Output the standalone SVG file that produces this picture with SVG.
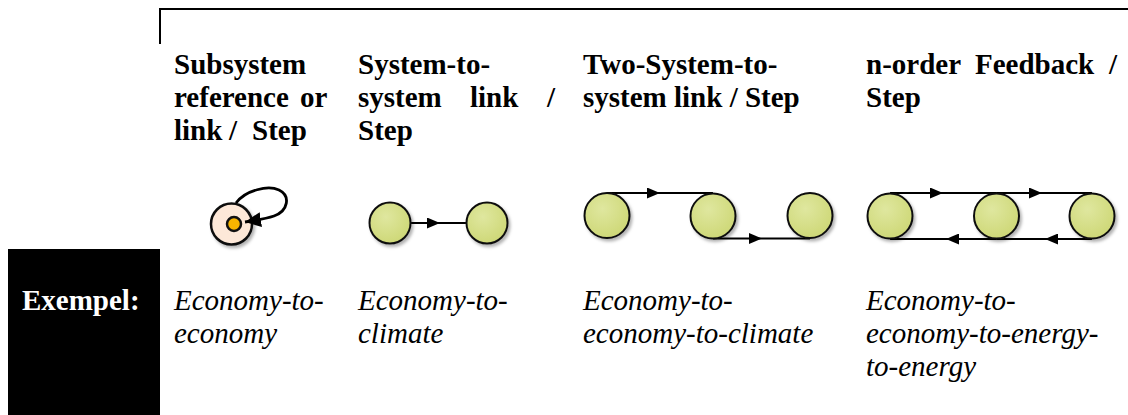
<svg xmlns="http://www.w3.org/2000/svg" width="1128" height="415" viewBox="0 0 1128 415">
<style>
.hd{font-family:"Liberation Serif","Times New Roman",serif;font-weight:bold;font-size:29px;fill:#000}
.ex{font-family:"Liberation Serif","Times New Roman",serif;font-style:italic;font-size:29px;fill:#000}
.lab{font-family:"Liberation Serif","Times New Roman",serif;font-weight:bold;font-size:29px;fill:#fff}
.node{fill:url(#g);stroke:#111;stroke-width:2;filter:url(#sh)}
.conn{fill:none;stroke:#000;stroke-width:2}
.frame{fill:none;stroke:#000;stroke-width:2}
</style>
<defs>
<radialGradient id="g" cx="40%" cy="35%" r="70%">
<stop offset="0" stop-color="#dfe79f"/>
<stop offset="1" stop-color="#cdd775"/>
</radialGradient>
<filter id="sh" x="-30%" y="-30%" width="170%" height="170%">
<feDropShadow dx="2" dy="2.5" stdDeviation="1.5" flood-color="#000" flood-opacity="0.3"/>
</filter>
<marker id="ar" markerUnits="userSpaceOnUse" markerWidth="13" markerHeight="11" refX="13" refY="5.5" orient="auto" viewBox="0 0 13 11">
<path d="M0,0 L13,5.5 L0,11 z" fill="#000"/>
</marker>
<marker id="arBig" markerUnits="userSpaceOnUse" markerWidth="16" markerHeight="15" refX="16" refY="7.5" orient="auto" viewBox="0 0 16 15">
<path d="M0,0 L16,7.5 L0,15 z" fill="#000"/>
</marker>
</defs>

<g id="frame">
<path class="frame" d="M160,44 L160,9 L1128,9"/>
</g>

<g id="headers">
<text class="hd" x="174" y="74">Subsystem</text>
<text class="hd" x="174" y="107">reference</text>
<text class="hd" x="300" y="107">or</text>
<text class="hd" x="174" y="140">link</text>
<text class="hd" x="229" y="140">/</text>
<text class="hd" x="252" y="140">Step</text>

<text class="hd" x="358" y="74">System-to-</text>
<text class="hd" x="358" y="107">system</text>
<text class="hd" x="470" y="107">link</text>
<text class="hd" x="547" y="107">/</text>
<text class="hd" x="358" y="140">Step</text>

<text class="hd" x="583" y="74">Two-System-to-</text>
<text class="hd" x="583" y="107">system link / Step</text>

<text class="hd" x="866" y="74">n-order</text>
<text class="hd" x="975" y="74">Feedback</text>
<text class="hd" x="1109" y="74">/</text>
<text class="hd" x="866" y="107">Step</text>
</g>

<g id="n1">
<circle cx="231.5" cy="224" r="20.5" fill="#fde8d8" stroke="#111" stroke-width="2.5" filter="url(#sh)"/>
<circle cx="234" cy="224" r="7" fill="#f7b500" stroke="#111" stroke-width="2.5"/>
</g>

<g id="connectors">
<path d="M236,203 C246,190 268,185 279,190 C291,196 288,211 274,216 C268,218 258,220 245,222" fill="none" stroke="#000" stroke-width="2.8" marker-end="url(#arBig)"/>
<path class="conn" d="M410,223 L440,223 L466,223" marker-mid="url(#ar)"/>
<path class="conn" d="M607,193 L660,193 L713,193" marker-mid="url(#ar)"/>
<path class="conn" d="M713,238.5 L762,238.5 L810,238.5" marker-mid="url(#ar)"/>
<path class="conn" d="M890,193 L943,193 L1042,193 L1092,193" marker-mid="url(#ar)"/>
<path class="conn" d="M1092,239 L1045,239 L946,239 L890,239" marker-mid="url(#ar)"/>
</g>

<g id="n2a"><circle class="node" cx="390" cy="223" r="20.5"/></g>
<g id="n2b"><circle class="node" cx="487" cy="223" r="20.5"/></g>
<g id="n3a"><circle class="node" cx="607" cy="215.5" r="22.5"/></g>
<g id="n3b"><circle class="node" cx="713" cy="216" r="22.5"/></g>
<g id="n3c"><circle class="node" cx="810" cy="215.5" r="22.5"/></g>
<g id="n4a"><circle class="node" cx="890" cy="216" r="22.5"/></g>
<g id="n4b"><circle class="node" cx="996.5" cy="216" r="22.5"/></g>
<g id="n4c"><circle class="node" cx="1092" cy="216" r="22.5"/></g>

<g id="exempel">
<rect x="8" y="249" width="152" height="166" fill="#000"/>
<text class="lab" x="22" y="310">Exempel:</text>
</g>

<g id="examples">
<text class="ex" x="174" y="310">Economy-to-</text>
<text class="ex" x="174" y="343">economy</text>
<text class="ex" x="358" y="310">Economy-to-</text>
<text class="ex" x="358" y="343">climate</text>
<text class="ex" x="583" y="310">Economy-to-</text>
<text class="ex" x="583" y="343">economy-to-climate</text>
<text class="ex" x="866" y="310">Economy-to-</text>
<text class="ex" x="866" y="343">economy-to-energy-</text>
<text class="ex" x="866" y="376">to-energy</text>
</g>
</svg>
